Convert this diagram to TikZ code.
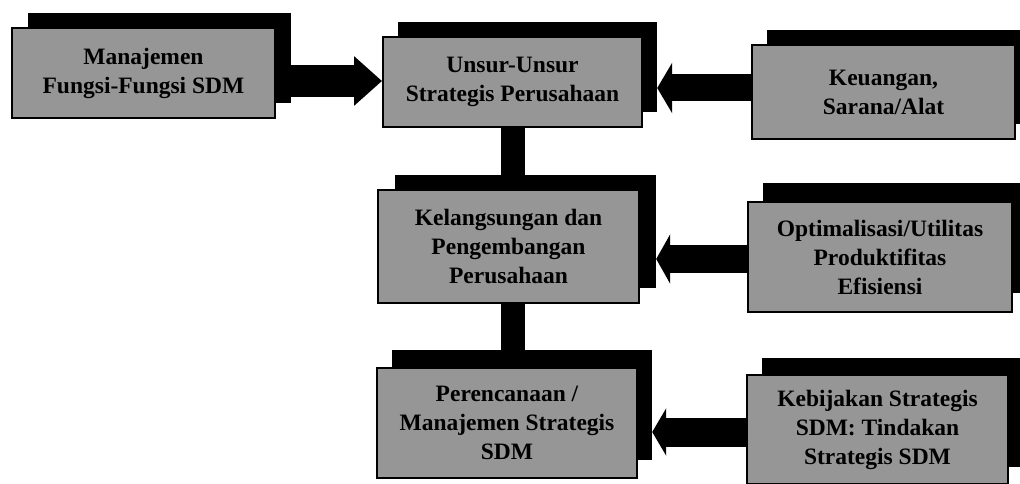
\documentclass[tikz,border=0pt]{standalone}
\usepackage{fontspec}
\setmainfont{Liberation Serif}
\usetikzlibrary{arrows.meta}
\definecolor{halftone}{RGB}{150,150,150}
\pgfdeclarelayer{bg}
\pgfsetlayers{bg,main}
\tikzset{
  shadowbox/.style={fill=black, draw=none, inner sep=0pt},
  frontbox/.style={fill=halftone, draw=black, line width=2pt, inner sep=0pt, align=center,
    font=\fontsize{23.5}{29}\selectfont\bfseries},
  conn/.style={draw=black, line width=#1},
  vbar/.style={draw=black, line width=24pt},
}
\begin{document}
\begin{tikzpicture}[x=1pt,y=-1pt]
\useasboundingbox (0,0) rectangle (1020,484);
\clip (0,0) rectangle (1020,484);
% left column
\node[shadowbox, minimum width=263pt, minimum height=90pt] (b1sh) at (159,58) {};
\node[frontbox, minimum width=263pt, minimum height=90pt] (b1) at (143.5,73) {Manajemen\\Fungsi-Fungsi SDM};
% center column
\node[shadowbox, minimum width=259pt, minimum height=90pt] (b2sh) at (527.5,67) {};
\node[frontbox, minimum width=259pt, minimum height=90pt] (b2) at (512.5,82) {Unsur-Unsur\\Strategis Perusahaan};
\node[shadowbox, minimum width=261pt, minimum height=113pt] (b4sh) at (525.5,231.5) {};
\node[frontbox, minimum width=261pt, minimum height=113pt] (b4) at (508.5,246.5) {Kelangsungan dan\\Pengembangan\\Perusahaan};
\node[shadowbox, minimum width=260pt, minimum height=110pt] (b6sh) at (522,405) {};
\node[frontbox, minimum width=260pt, minimum height=110pt] (b6) at (507,423) {Perencanaan /\\Manajemen Strategis\\SDM};
% right column
\node[shadowbox, minimum width=263pt, minimum height=94pt] (b3sh) at (898.5,77) {};
\node[frontbox, minimum width=263pt, minimum height=94pt] (b3) at (883.5,92) {Keuangan,\\Sarana/Alat};
\node[shadowbox, minimum width=264pt, minimum height=110pt] (b5sh) at (895,238) {};
\node[frontbox, minimum width=264pt, minimum height=110pt] (b5) at (880,257) {Optimalisasi/Utilitas\\Produktifitas\\Efisiensi};
\node[shadowbox, minimum width=261pt, minimum height=109pt] (b7sh) at (892.5,412.5) {};
\node[frontbox, minimum width=261pt, minimum height=109pt] (b7) at (877.5,429.5) {Kebijakan Strategis\\SDM: Tindakan\\Strategis SDM};
% connectors
\coordinate (a1) at ([yshift=-23pt]b1sh.east);
\coordinate (a3) at ([yshift=4pt]b3.west);
\coordinate (a5) at ([yshift=-2pt]b5.west);
\coordinate (a7) at ([yshift=-2.5pt]b7.west);
\begin{pgfonlayer}{bg}
\fill[white] (0,0) rectangle (1020,484);
\draw[conn=32pt, -{Triangle[length=28pt,width=48pt]}] (a1) -- (a1 -| b2.west);
\draw[conn=27pt, -{Triangle[length=15pt,width=50pt]}] (a3) -- (a3 -| b2sh.east);
\draw[conn=28pt, -{Triangle[length=14pt,width=49pt]}] (a5) -- (a5 -| b4sh.east);
\draw[conn=29pt, -{Triangle[length=14pt,width=47pt]}] (a7) -- (a7 -| b6sh.east);
\draw[vbar] (b2.south) -- (b2.south |- b4sh.north);
\draw[vbar] (b4.south -| b2.south) -- (b6sh.north -| b2.south);
\end{pgfonlayer}
\end{tikzpicture}
\end{document}
